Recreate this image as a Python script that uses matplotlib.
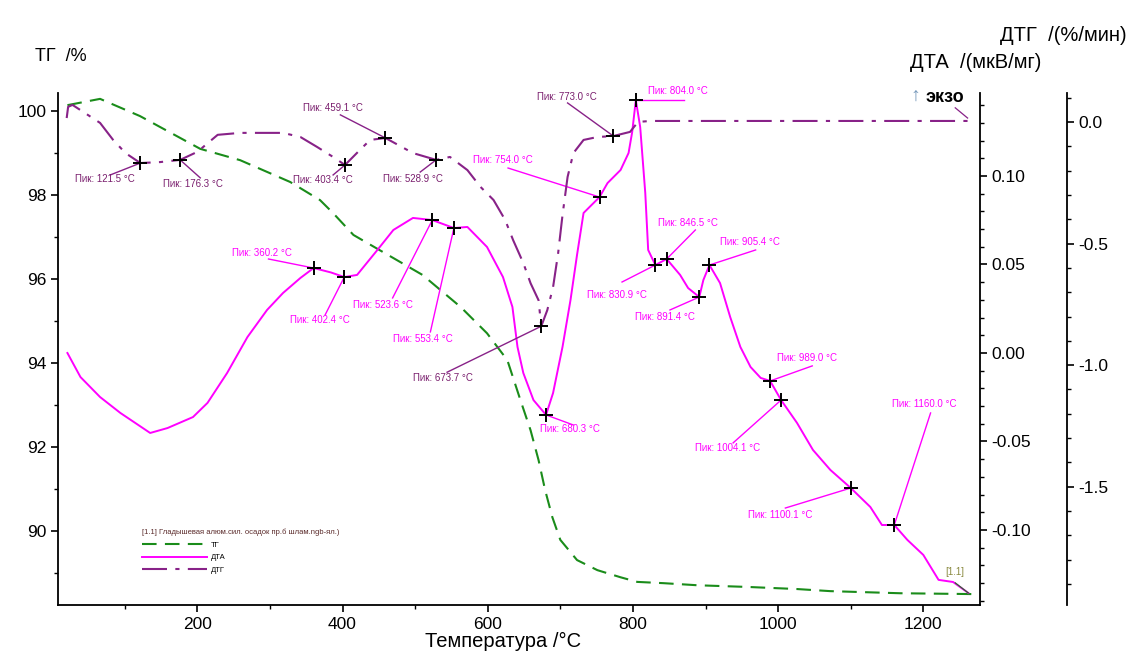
import numpy as np
import matplotlib
matplotlib.use("Agg")
import matplotlib.pyplot as plt
from matplotlib.ticker import MultipleLocator, FormatStrFormatter

plt.rcParams['font.family'] = ['Liberation Sans', 'DejaVu Sans']
plt.rcParams['axes.unicode_minus'] = False

# --- ТГ, %
tg_t = [21, 66, 121, 204, 259, 328, 369, 387, 415, 456, 510, 563, 599, 627, 645,
        659, 670, 679, 689, 700, 723, 751, 783, 806, 842, 889, 958, 1026, 1072, 1168, 1268]
tg_v = [100.14, 100.29, 99.88, 99.10, 98.83, 98.31, 97.88, 97.57, 97.05, 96.64, 96.10,
        95.33, 94.71, 94.07, 93.12, 92.40, 91.69, 90.98, 90.33, 89.79, 89.31, 89.07,
        88.90, 88.79, 88.76, 88.71, 88.67, 88.62, 88.57, 88.52, 88.50]

# --- ДТА, мкВ/мг
dta_t = [21, 39, 66, 94, 135, 159, 194, 214, 241, 269, 296, 318, 342, 360.2, 384,
         402.4, 420, 448, 470, 497, 523.6, 553.4, 572, 599, 621, 634, 641, 649, 663,
         680.3, 690, 703, 714, 723, 732, 754, 765, 783, 794, 799, 804, 810, 817, 821,
         830.9, 846.5, 865, 876, 891.4, 897, 905.4, 920, 934, 948, 962, 976, 989,
         1004.1, 1026, 1048, 1072, 1100.1, 1127, 1143, 1160, 1178, 1200, 1221, 1241, 1262]
dta_v = [0.000, -0.0136, -0.0249, -0.0339, -0.0452, -0.0424, -0.0362, -0.0282, -0.0113,
         0.0090, 0.0243, 0.0339, 0.0424, 0.0480, 0.0455, 0.0429, 0.0441, 0.0582, 0.0695,
         0.0763, 0.0751, 0.0706, 0.0712, 0.0599, 0.0429, 0.0260, 0.0034, -0.0113, -0.0266,
         -0.0350, -0.0226, 0.0034, 0.0299, 0.0554, 0.0791, 0.0881, 0.0960, 0.1034, 0.1130,
         0.1249, 0.1429, 0.1277, 0.0904, 0.0582, 0.0497, 0.0531, 0.0441, 0.0367, 0.0316,
         0.0412, 0.0497, 0.0395, 0.0203, 0.0034, -0.0079, -0.0141, -0.0158, -0.0266,
         -0.0395, -0.0548, -0.0661, -0.0763, -0.0870, -0.0972, -0.0972, -0.1056, -0.1141,
         -0.1282, -0.1294, -0.1356]

# --- ДТГ, %/мин
dtg_t = [20, 22, 28, 66, 84, 101, 121.5, 149, 176.3, 200, 228, 259, 318, 342, 365, 387,
         403.4, 424, 438, 459.1, 497, 528.9, 548, 572, 590, 608, 624, 635, 649, 659, 670,
         673.7, 682, 690, 697, 703, 710, 718, 732, 751, 773.0, 796, 807, 824, 1262]
dtg_v = [0.016, 0.062, 0.070, -0.004, -0.074, -0.128, -0.169, -0.165, -0.156, -0.123,
         -0.053, -0.045, -0.045, -0.062, -0.103, -0.144, -0.177, -0.115, -0.074, -0.066,
         -0.128, -0.156, -0.144, -0.198, -0.267, -0.321, -0.403, -0.486, -0.580, -0.663,
         -0.733, -0.840, -0.774, -0.679, -0.539, -0.383, -0.226, -0.128, -0.074, -0.062,
         -0.058, -0.041, 0.000, 0.004, 0.004]

# peaks and where their labels sit
dtg_peaks = [121.5, 176.3, 403.4, 459.1, 528.9, 673.7, 773.0]
dtg_label_t = [32, 153, 332, 346, 456, 497, 668]
dtg_label_v = [-0.235, -0.255, -0.239, 0.058, -0.235, -1.053, 0.103]
dtg_lead_t = [80, 204, 387, 397, 507, 544, 710]
dtg_lead_v = [-0.218, -0.230, -0.218, 0.029, -0.206, -1.029, 0.078]

dta_peaks = [360.2, 402.4, 523.6, 553.4, 680.3, 754.0, 804.0, 830.9, 846.5, 891.4,
             905.4, 989.0, 1004.1, 1100.1, 1160.0]
dta_label_t = [248, 328, 415, 469, 672, 580, 821, 737, 834, 803, 920, 999, 886, 958, 1157]
dta_label_v = [0.0565, 0.0186, 0.0271, 0.0079, -0.0429, 0.109, 0.148, 0.0328, 0.0734,
               0.0203, 0.0627, -0.0028, -0.0537, -0.0915, -0.0288]
dta_lead_t = [298, 376, 469, 521, 718, 628, 870, 785, 886, 851, 969, 1047, 938, 1010, 1210]
dta_lead_v = [0.0531, 0.0215, 0.0311, 0.0119, -0.0407, 0.1045, 0.1429, 0.0401, 0.0695,
              0.0243, 0.0582, -0.0073, -0.0508, -0.0876, -0.0339]

c_tg = '#1a8c1a'
c_dta = '#ff00ff'
c_dtg = '#882288'
c_dtg_txt = '#7a1f6e'

fig = plt.figure(figsize=(11.3, 6.53), dpi=100)
ax = fig.add_axes([0.0513, 0.0735, 0.8159, 0.7841])
ax_dta = ax.twinx()
ax_dtg = ax.twinx()
ax_dtg.spines['right'].set_position(('axes', 1.094))

for a in (ax, ax_dta, ax_dtg):
    a.spines['top'].set_visible(False)
    a.patch.set_visible(False)
ax.spines['right'].set_visible(False)
for a in (ax_dta, ax_dtg):
    a.spines['left'].set_visible(False)
    a.spines['bottom'].set_visible(False)
for sp in ('left', 'bottom'):
    ax.spines[sp].set_linewidth(1.3)
ax_dta.spines['right'].set_linewidth(1.3)
ax_dtg.spines['right'].set_linewidth(1.3)

# curves
l_tg, = ax.plot(tg_t, tg_v, color=c_tg, lw=1.5, dashes=(7, 4))
l_dta, = ax_dta.plot(dta_t, dta_v, color=c_dta, lw=1.4)
l_dtg, = ax_dtg.plot(dtg_t, dtg_v, color=c_dtg, lw=1.5, dashes=(12, 4, 2, 4))

# peak markers + labels
for i, pt in enumerate(dtg_peaks):
    pv = np.interp(pt, dtg_t, dtg_v)
    ax_dtg.plot([pt, dtg_lead_t[i]], [pv, dtg_lead_v[i]], color=c_dtg, lw=1.0)
    ax_dtg.plot(pt, pv, marker='+', color='black', ms=10, mew=1.4)
    ax_dtg.text(dtg_label_t[i], dtg_label_v[i], f"Пик: {pt:.1f} °C", color=c_dtg_txt,
                fontsize=7, ha='left', va='center')

for i, pt in enumerate(dta_peaks):
    pv = np.interp(pt, dta_t, dta_v)
    ax_dta.plot([pt, dta_lead_t[i]], [pv, dta_lead_v[i]], color=c_dta, lw=1.0)
    ax_dta.plot(pt, pv, marker='+', color='black', ms=10, mew=1.4)
    ax_dta.text(dta_label_t[i], dta_label_v[i], f"Пик: {pt:.1f} °C", color=c_dta,
                fontsize=7, ha='left', va='center')

# [1.1] tags at the curve ends
ax_dta.plot([1244, 1262], [-0.1299, -0.1356], color='#2e6b2e', lw=0.9)
ax_dta.text(1230, -0.1237, "[1.1]", color='#8a8a40', fontsize=7, ha='left', va='center')
ax_dtg.plot([1244, 1261], [0.058, 0.016], color=c_dtg, lw=0.9)

# axes limits / ticks
ax.set_xlim(8, 1278)
ax.set_ylim(88.24, 100.43)
ax_dta.set_ylim(-0.1424, 0.1469)
ax_dtg.set_ylim(-1.986, 0.119)

ax.xaxis.set_major_locator(MultipleLocator(200))
ax.xaxis.set_minor_locator(MultipleLocator(100))
ax.yaxis.set_major_locator(MultipleLocator(2))
ax.yaxis.set_minor_locator(MultipleLocator(1))
ax_dta.yaxis.set_major_locator(MultipleLocator(0.05))
ax_dta.yaxis.set_minor_locator(MultipleLocator(0.01))
ax_dta.yaxis.set_major_formatter(FormatStrFormatter('%.2f'))
ax_dtg.yaxis.set_major_locator(MultipleLocator(0.5))
ax_dtg.yaxis.set_minor_locator(MultipleLocator(0.1))
ax_dtg.yaxis.set_major_formatter(FormatStrFormatter('%.1f'))

for a in (ax, ax_dta, ax_dtg):
    a.tick_params(which='major', length=5, width=1.2, labelsize=12.5, direction='out')
    a.tick_params(which='minor', length=3, width=1.0, direction='out')

# axis titles
fig.text(0.031, 0.913, "ТГ  /%", fontsize=13, ha='left', va='center')
fig.text(0.805, 0.905, "ДТА  /(мкВ/мг)", fontsize=14.5, ha='left', va='center')
fig.text(0.885, 0.946, "ДТГ  /(%/мин)", fontsize=14.5, ha='left', va='center')
fig.text(0.806, 0.852, "↑", fontsize=14, color='#7799bb', ha='left', va='center')
fig.text(0.819, 0.851, "экзо", fontsize=13, fontweight='bold', ha='left', va='center')
fig.text(0.445, 0.003, "Температура /°C", fontsize=14.5, ha='center', va='bottom')

leg = ax_dtg.legend([l_tg, l_dta, l_dtg], ["ТГ", "ДТА", "ДТГ"],
                    loc='lower left', bbox_to_anchor=(0.084, 0.047), frameon=False,
                    fontsize=5.5, title="[1.1] Гладышевая алюм.сил. осадок пр.б шлам.ngb-ял.)",
                    title_fontsize=5.5, handlelength=8.5, labelspacing=0.7,
                    alignment='left', handletextpad=0.5)
leg.get_title().set_color('#5a2a2a')

fig.savefig("out.png", dpi=100)
